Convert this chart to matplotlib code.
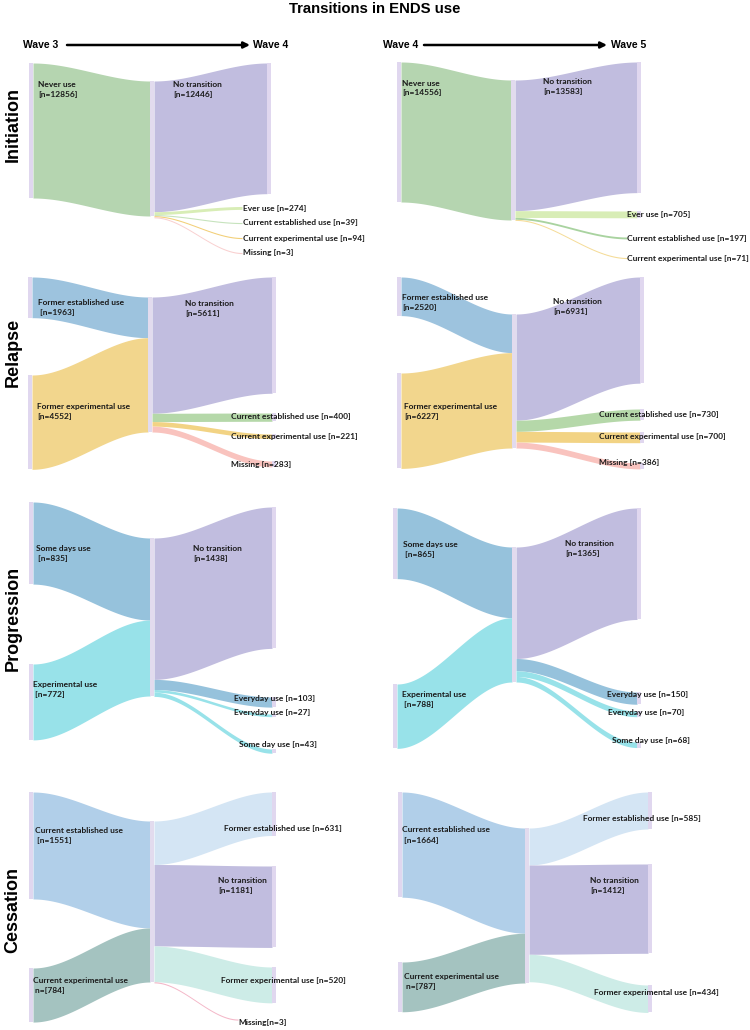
import numpy as np
import matplotlib
matplotlib.use("Agg")
import matplotlib.pyplot as plt
from matplotlib.patches import Rectangle

# ---------------- data ----------------
title = "Transitions in ENDS use"
row_names = ["Initiation", "Relapse", "Progression", "Cessation"]
wave_pairs = [("Wave 3", "Wave 4"), ("Wave 4", "Wave 5")]

init_src = ["Never use"]
init34_src_n = [12856]
init45_src_n = [14556]
init34_tgt = ["No transition", "Ever use", "Current established use",
              "Current experimental use", "Missing"]
init34_tgt_n = [12446, 274, 39, 94, 3]
init45_tgt = ["No transition", "Ever use", "Current established use",
              "Current experimental use"]
init45_tgt_n = [13583, 705, 197, 71]

rel_src = ["Former established use", "Former experimental use"]
rel34_src_n = [1963, 4552]
rel45_src_n = [2520, 6227]
rel_tgt = ["No transition", "Current established use",
           "Current experimental use", "Missing"]
rel34_tgt_n = [5611, 400, 221, 283]
rel45_tgt_n = [6931, 730, 700, 386]

prog_src = ["Some days use", "Experimental use"]
prog34_src_n = [835, 772]
prog45_src_n = [865, 788]
prog_tgt = ["No transition", "Everyday use", "Everyday use", "Some day use"]
prog34_tgt_n = [1438, 103, 27, 43]
prog45_tgt_n = [1365, 150, 70, 68]

cess_src = ["Current established use", "Current experimental use"]
cess34_src_n = [1551, 784]
cess45_src_n = [1664, 787]
cess34_tgt = ["Former established use", "No transition",
              "Former experimental use", "Missing"]
cess34_tgt_n = [631, 1181, 520, 3]
cess45_tgt = ["Former established use", "No transition",
              "Former experimental use"]
cess45_tgt_n = [585, 1412, 434]

# ---------------- style ----------------
C_BAR = "#e0d7ef"
C_MID = "#e2dbee"
C_NEVER = "#b5d5b0"
C_NOTR = "#c1bddf"
C_EVER = "#d8edb6"
C_EST = "#b5d8a9"
C_EXP = "#f2d384"
C_MISS = "#f9c3be"
C_FEST = "#9dc3de"
C_FEXP = "#f2d68d"
C_SOME = "#96c2dc"
C_EXPU = "#98e2e9"
C_CEST = "#b1cfe9"
C_CEXP = "#a4c3c0"
C_FEST2 = "#d4e5f4"
C_FEXP2 = "#cdece7"

LAB_FONT = ["Lato", "DejaVu Sans"]
HEAD_FONT = ["Liberation Sans", "DejaVu Sans"]
LAB_SIZE = 6.0

fig = plt.figure(figsize=(7.5, 10.3), dpi=100)
ax = fig.add_axes([0, 0, 1, 1])
ax.set_xlim(0, 750)
ax.set_ylim(1030, 0)
ax.axis("off")


def band(x0, x1, t0, b0, t1, b1, color):
    xs = np.linspace(x0, x1, 80)
    s = (xs - x0) / (x1 - x0)
    s = s * s * (3 - 2 * s)
    top = t0 + (t1 - t0) * s
    bot = b0 + (b1 - b0) * s
    ax.fill_between(xs, top, bot, color=color, lw=0)


def label(x, y, txt, ha="left"):
    ax.text(x, y, txt, ha=ha, va="center", fontsize=LAB_SIZE,
            family=LAB_FONT, fontweight="bold", linespacing=1.5,
            color="#1a1a1a")


def panel(src_n, tgt_n, lay):
    bw = 4
    minh = 1.1
    scale = lay["mid_h"] / sum(src_n)
    xl, xm = lay["x"]
    ym = lay["mid_top"]
    for i, n in enumerate(src_n):
        h = max(n * scale, minh)
        t0 = lay["src_top"][i]
        ax.add_patch(Rectangle((xl, t0), bw, h, color=C_BAR, lw=0))
        band(xl + bw, xm, t0, t0 + h, ym, ym + h, lay["src_col"][i])
        ym += h
    ax.add_patch(Rectangle((xm, lay["mid_top"]), bw, ym - lay["mid_top"],
                           color=C_MID, lw=0))
    ym = lay["mid_top"]
    for j, n in enumerate(tgt_n):
        h = max(n * scale, minh)
        t1 = lay["tgt_top"][j]
        xe = lay["tgt_end"][j]
        band(xm + bw, xe, ym, ym + h, t1, t1 + h, lay["tgt_col"][j])
        if lay["tgt_bar"][j]:
            ax.add_patch(Rectangle((xe, t1), bw, h, color=C_BAR, lw=0))
        ym += h
    for (x, y), name, n, fmt in zip(lay["src_lab"], lay["src_names"], src_n,
                                    lay["src_fmt"]):
        label(x, y, fmt.format(name=name, n=n))
    for (x, y), name, n, fmt in zip(lay["tgt_lab"], lay["tgt_names"], tgt_n,
                                    lay["tgt_fmt"]):
        label(x, y, fmt.format(name=name, n=n))


TWO = "{name}\n[n={n}]"
TWO_S = "{name}\n [n={n}]"
TWO_C = "{name}\n n=[{n}]"
ONE = "{name} [n={n}]"

layouts = [
    # Initiation, wave 3 -> 4
    (init34_src_n, init34_tgt_n, dict(
        x=(29, 150), mid_h=135, mid_top=81, src_top=[63], src_col=[C_NEVER],
        tgt_top=[63, 206.5, 222.5, 237.5, 252.5],
        tgt_end=[267, 242, 242, 242, 242],
        tgt_bar=[True, False, False, False, False],
        tgt_col=[C_NOTR, C_EVER, "#c6e3bd", "#f2cf78", "#f9d0d0"],
        src_names=init_src, src_fmt=[TWO], src_lab=[(38, 89.5)],
        tgt_names=init34_tgt, tgt_fmt=[TWO, ONE, ONE, ONE, ONE],
        tgt_lab=[(173, 89.5), (243, 208), (243, 223), (243, 238), (243, 253)])),
    # Initiation, wave 4 -> 5
    (init45_src_n, init45_tgt_n, dict(
        x=(397, 511), mid_h=140, mid_top=80, src_top=[62], src_col=[C_NEVER],
        tgt_top=[62, 211, 237, 257.5],
        tgt_end=[637, 637, 627, 627],
        tgt_bar=[True, True, False, False],
        tgt_col=[C_NOTR, C_EVER, "#a9d3a0", "#f5dc98"],
        src_names=init_src, src_fmt=[TWO], src_lab=[(402, 88)],
        tgt_names=init45_tgt, tgt_fmt=[TWO, ONE, ONE, ONE],
        tgt_lab=[(543, 86.5), (627, 214), (627, 238), (627, 258)])),
    # Relapse, wave 3 -> 4
    (rel34_src_n, rel34_tgt_n, dict(
        x=(28, 148), mid_h=135, mid_top=297, src_top=[277, 375],
        src_col=[C_FEST, C_FEXP],
        tgt_top=[277, 413, 434, 461], tgt_end=[272] * 4, tgt_bar=[True] * 4,
        tgt_col=[C_NOTR, C_EST, C_EXP, C_MISS],
        src_names=rel_src, src_fmt=[TWO_S, TWO], src_lab=[(38, 307.5), (37, 412)],
        tgt_names=rel_tgt, tgt_fmt=[TWO, ONE, ONE, ONE],
        tgt_lab=[(185, 308.5), (231, 417), (231, 437), (231, 464)])),
    # Relapse, wave 4 -> 5
    (rel45_src_n, rel45_tgt_n, dict(
        x=(397, 512), mid_h=134, mid_top=314, src_top=[277, 373],
        src_col=[C_FEST, C_FEXP],
        tgt_top=[277, 409, 432, 463], tgt_end=[640] * 4, tgt_bar=[True] * 4,
        tgt_col=[C_NOTR, C_EST, C_EXP, C_MISS],
        src_names=rel_src, src_fmt=[TWO, TWO], src_lab=[(402, 302.5), (404, 412)],
        tgt_names=rel_tgt, tgt_fmt=[TWO, ONE, ONE, ONE],
        tgt_lab=[(553, 306.5), (599, 415), (599, 437), (599, 462)])),
    # Progression, wave 3 -> 4
    (prog34_src_n, prog34_tgt_n, dict(
        x=(29, 150), mid_h=158, mid_top=538, src_top=[502, 664],
        src_col=[C_SOME, C_EXPU],
        tgt_top=[507, 697, 714, 749], tgt_end=[272] * 4, tgt_bar=[True] * 4,
        tgt_col=[C_NOTR, C_SOME, C_EXPU, C_EXPU],
        src_names=prog_src, src_fmt=[TWO_S, TWO_S], src_lab=[(36, 553.5), (33, 689)],
        tgt_names=prog_tgt, tgt_fmt=[TWO, ONE, ONE, ONE],
        tgt_lab=[(193, 553.5), (234, 699), (234, 712), (239, 744)])),
    # Progression, wave 4 -> 5
    (prog45_src_n, prog45_tgt_n, dict(
        x=(393, 512), mid_h=135, mid_top=547, src_top=[508, 684],
        src_col=[C_SOME, C_EXPU],
        tgt_top=[508, 692, 711, 742], tgt_end=[637] * 4, tgt_bar=[True] * 4,
        tgt_col=[C_NOTR, C_SOME, C_EXPU, C_EXPU],
        src_names=prog_src, src_fmt=[TWO_S, TWO_S], src_lab=[(403, 549), (402, 700)],
        tgt_names=prog_tgt, tgt_fmt=[TWO, ONE, ONE, ONE],
        tgt_lab=[(565, 548.5), (607, 695), (608, 712), (612, 741)])),
    # Cessation, wave 3 -> 4
    (cess34_src_n, cess34_tgt_n, dict(
        x=(29, 150), mid_h=161, mid_top=821, src_top=[792, 968],
        src_col=[C_CEST, C_CEXP],
        tgt_top=[792, 866, 967, 1019], tgt_end=[272, 272, 272, 238],
        tgt_bar=[True, True, True, False],
        tgt_col=[C_FEST2, C_NOTR, C_FEXP2, "#f4b7c8"],
        src_names=cess_src, src_fmt=[TWO_S, TWO_C], src_lab=[(35, 835.5), (33, 985.5)],
        tgt_names=cess34_tgt, tgt_fmt=[ONE, TWO, ONE, "{name}[n={n}]"],
        tgt_lab=[(224, 829), (218, 885.5), (221, 981), (238, 1022)])),
    # Cessation, wave 4 -> 5
    (cess45_src_n, cess45_tgt_n, dict(
        x=(398, 525), mid_h=155, mid_top=828, src_top=[792, 962],
        src_col=[C_CEST, C_CEXP],
        tgt_top=[792, 864, 985], tgt_end=[648] * 3, tgt_bar=[True] * 3,
        tgt_col=[C_FEST2, C_NOTR, C_FEXP2],
        src_names=cess_src, src_fmt=[TWO_S, TWO_C], src_lab=[(402, 835), (404, 981.5)],
        tgt_names=cess45_tgt, tgt_fmt=[ONE, TWO, ONE],
        tgt_lab=[(583, 819), (590, 885.5), (594, 992)])),
]

for s_n, t_n, lay in layouts:
    panel(s_n, t_n, lay)

# ---------------- headings ----------------
ax.text(375, 9, title, ha="center", va="center", fontsize=10.7,
        fontweight="bold", family=HEAD_FONT)

wave_geo = [(23, 67, 250, 253), (383, 424, 607, 611)]
for (w0, w1), (tx0, ax0, ax1, tx1) in zip(wave_pairs, wave_geo):
    ax.text(tx0, 45, w0, ha="left", va="center", fontsize=7.5,
            fontweight="bold", family=HEAD_FONT)
    ax.text(tx1, 45, w1, ha="left", va="center", fontsize=7.5,
            fontweight="bold", family=HEAD_FONT)
    ax.annotate("", xy=(ax1, 45), xytext=(ax0, 45),
                arrowprops=dict(arrowstyle="-|>", lw=1.8, color="black",
                                mutation_scale=9, shrinkA=0, shrinkB=0))

row_y = [124, 352, 618, 910]
for name, y in zip(row_names, row_y):
    ax.text(13, y, name, rotation=90, ha="center", va="center",
            fontsize=13, fontweight="bold", family=HEAD_FONT)

fig.savefig("out.png", dpi=100)
